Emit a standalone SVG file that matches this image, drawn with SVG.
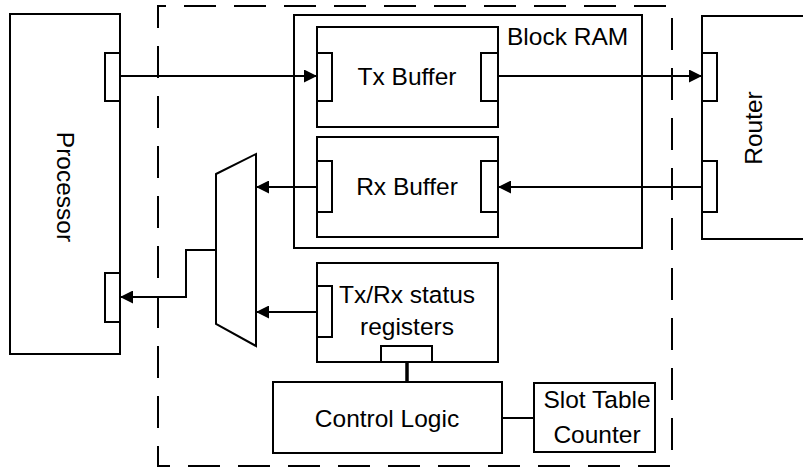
<svg xmlns="http://www.w3.org/2000/svg" width="803" height="468" viewBox="0 0 803 468">
  <style>
    .box { fill: #fff; stroke: #000; stroke-width: 2; }
    .port { fill: #fff; stroke: #000; stroke-width: 2; }
    .wire { fill: none; stroke: #000; stroke-width: 2; }
    .lbl { font-family: "Liberation Sans", Arial, sans-serif; font-size: 24.5px; fill: #000; }
    .mid { text-anchor: middle; }
  </style>
  <defs>
    <marker id="arrow" markerUnits="userSpaceOnUse" markerWidth="13" markerHeight="13" refX="13" refY="6.5" orient="auto">
      <path d="M0,0 L13,6.5 L0,13 z" fill="#000"/>
    </marker>
  </defs>

  <rect width="803" height="468" fill="#fff"/>

  <!-- network interface boundary -->
  <g id="ni-boundary">
    <rect x="158" y="6" width="514" height="460" fill="none" stroke="#000" stroke-width="2" stroke-dasharray="32 18" stroke-dashoffset="24"/>
  </g>

  <g id="processor">
    <rect class="box" x="10" y="14" width="110" height="340"/>
    <rect class="port" x="105" y="53" width="15" height="48"/>
    <rect class="port" x="105" y="273" width="15" height="49"/>
    <text class="lbl mid" transform="translate(57,187) rotate(90)">Processor</text>
  </g>

  <g id="router">
    <path class="wire" d="M803,16 H702 V239 H803"/>
    <rect class="port" x="702" y="53" width="15" height="48"/>
    <rect class="port" x="702" y="161" width="15" height="51"/>
    <text class="lbl mid" transform="translate(762,128) rotate(-90)">Router</text>
  </g>

  <g id="block-ram">
    <rect class="box" x="294" y="15" width="348" height="233"/>
    <text class="lbl" x="507" y="45">Block RAM</text>
  </g>

  <g id="tx-buffer">
    <rect class="box" x="317" y="27" width="181" height="100"/>
    <rect class="port" x="317" y="53" width="15" height="48"/>
    <rect class="port" x="481" y="53" width="17" height="48"/>
    <text class="lbl mid" x="407" y="85">Tx Buffer</text>
  </g>

  <g id="rx-buffer">
    <rect class="box" x="317" y="137" width="181" height="100"/>
    <rect class="port" x="317" y="161" width="15" height="51"/>
    <rect class="port" x="481" y="161" width="17" height="51"/>
    <text class="lbl mid" x="407" y="195">Rx Buffer</text>
  </g>

  <g id="mux">
    <polygon class="box" points="216,174 256,154 256,346 216,324"/>
  </g>

  <g id="status-registers">
    <rect class="box" x="317" y="263" width="181" height="99"/>
    <rect class="port" x="317" y="286" width="15" height="51"/>
    <rect class="port" x="381" y="346" width="51" height="16"/>
    <text class="lbl mid" x="407" y="303">Tx/Rx status</text>
    <text class="lbl mid" x="407" y="335">registers</text>
  </g>

  <g id="control-logic">
    <rect class="box" x="273" y="382" width="229" height="71"/>
    <text class="lbl mid" x="387" y="427">Control Logic</text>
  </g>

  <g id="slot-table-counter">
    <rect class="box" x="534" y="383" width="121" height="69"/>
    <text class="lbl mid" x="597" y="408">Slot Table</text>
    <text class="lbl mid" x="597" y="443">Counter</text>
  </g>

  <g id="connectors">
    <line class="wire" x1="120" y1="76" x2="317" y2="76" marker-end="url(#arrow)"/>
    <line class="wire" x1="498" y1="76" x2="702" y2="76" marker-end="url(#arrow)"/>
    <line class="wire" x1="702" y1="187" x2="498" y2="187" marker-end="url(#arrow)"/>
    <line class="wire" x1="317" y1="187" x2="256" y2="187" marker-end="url(#arrow)"/>
    <line class="wire" x1="317" y1="312" x2="256" y2="312" marker-end="url(#arrow)"/>
    <polyline class="wire" points="216,250 186,250 186,297 120,297" marker-end="url(#arrow)"/>
    <line x1="407" y1="362" x2="407" y2="382" stroke="#000" stroke-width="3.5"/>
    <line class="wire" x1="502" y1="418" x2="534" y2="418"/>
  </g>
</svg>
